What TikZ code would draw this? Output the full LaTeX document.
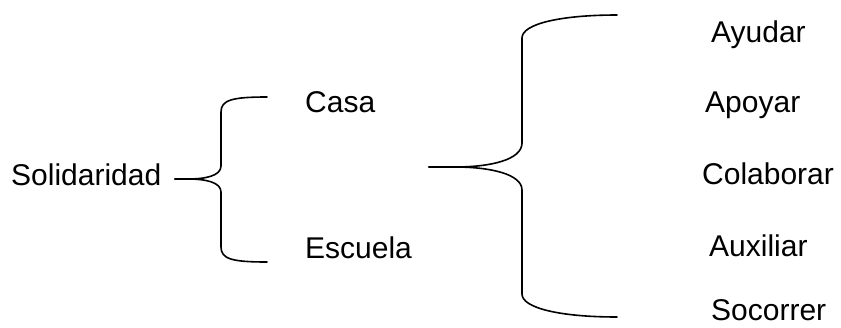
\documentclass[tikz,border=0pt]{standalone}
\usepackage{fontspec}
\setmainfont{Liberation Sans}
\begin{document}
\begin{tikzpicture}[x=1pt,y=-1pt,
  lbl/.style={anchor=base west,inner sep=0pt,font=\fontsize{30}{36}\selectfont},
  brace/.style={line width=1.6pt,line cap=round,line join=round}]
\useasboundingbox (0,0) rectangle (841,327);
% labels
\node[lbl] (sol) at (11,185) {Solidaridad};
\node[lbl] (casa) at (305,112) {Casa};
\node[lbl] (esc) at (305,258) {Escuela};
\node[lbl] (ayu) at (711,42) {Ayudar};
\node[lbl] (apo) at (705,112) {Apoyar};
\node[lbl] (col) at (702,184) {Colaborar};
\node[lbl] (aux) at (709,256) {Auxiliar};
\node[lbl] (soc) at (711,320) {Socorrer};
% small brace
\coordinate (t1) at (175,179);
\coordinate (a1) at (267,97);
\coordinate (b1) at (267,262);
\draw[brace] (a1) .. controls (232,97) and (221,100) .. (221,112)
  -- (221,166) .. controls (221,176) and (205,179) .. (188,179) -- (t1);
\draw[brace] (t1) -- (188,179) .. controls (205,179) and (221,182) .. (221,192)
  -- (221,247) .. controls (221,259) and (232,262) .. (b1);
% large brace
\coordinate (t2) at (429,167);
\coordinate (a2) at (617,15);
\coordinate (b2) at (617,317);
\draw[brace] (a2) .. controls (560,15) and (522,24) .. (522,38)
  -- (522,143) .. controls (522,160) and (490,167) .. (455,167) -- (t2);
\draw[brace] (t2) -- (455,167) .. controls (490,167) and (522,174) .. (522,190)
  -- (522,294) .. controls (522,308) and (560,317) .. (b2);
\end{tikzpicture}
\end{document}
